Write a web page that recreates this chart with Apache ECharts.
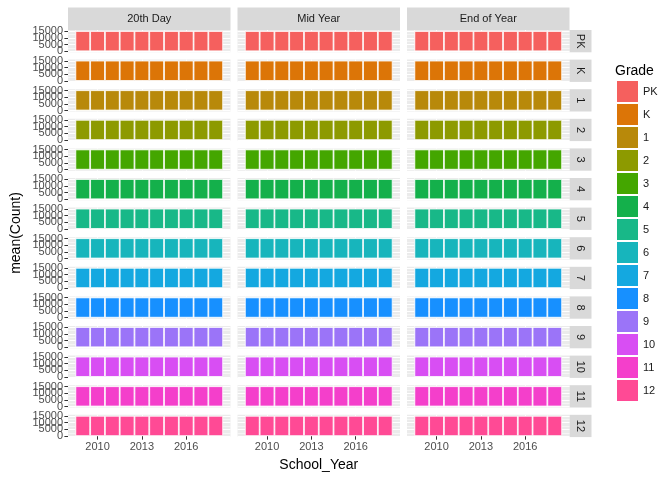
<!DOCTYPE html>
<html>
<head>
<meta charset="utf-8">
<script src="https://cdn.jsdelivr.net/npm/echarts@6/dist/echarts.min.js"></script>
<style>
  html, body { margin: 0; padding: 0; background: #fff; }
  #chart { width: 672px; height: 480px; }
</style>
</head>
<body>
<div id="chart"></div>
<script>
// facet data: one bar per school year, rows = grade, columns = period
const years = [2009, 2010, 2011, 2012, 2013, 2014, 2015, 2016, 2017, 2018]
const grades = ['PK', 'K', '1', '2', '3', '4', '5', '6', '7', '8', '9', '10', '11', '12']
const periods = ['20th Day', 'Mid Year', 'End of Year']
const gradeColors = ['#F5605E', '#DC7507', '#B8890A', '#8D9A00', '#44A600', '#14B04B', '#18B888',
  '#17B5BC', '#14A8E0', '#1790FF', '#9B74F8', '#D84EF3', '#F43FCB', '#FF4A95']
const count20thDay = [15200, 15200, 15200, 15200, 15200, 15200, 15200, 15200, 15200, 15200]
const countMidYear = [15200, 15200, 15200, 15200, 15200, 15200, 15200, 15200, 15200, 15200]
const countEndOfYear = [15200, 15200, 15200, 15200, 15200, 15200, 15200, 15200, 15200, 15200]
const yTicks = [0, 5000, 10000, 15000]
const yMinorTicks = [2500, 7500, 12500]
const xTicks = [2010, 2013, 2016]
const xMinorTicks = [2008.5, 2011.5, 2014.5, 2017.5]

const periodCounts = [count20thDay, countMidYear, countEndOfYear]

// layout (px)
const colLeft = [68, 237.5, 407]
const panelW = 162.5
const top0 = 30
const rowStep = 29.6
const panelH = 22.3
const stripW = 22
const font = 'Liberation Sans, Arial, sans-serif'
const yMin = -760
const yMax = 15960

const plain = v => String(v)

const grid = []
const xAxis = []
const yAxis = []
const series = []
const graphic = []

grades.forEach((grade, r) => {
  periods.forEach((period, c) => {
    const g = grid.length
    const isBottom = r === grades.length - 1
    const isLeft = c === 0
    grid.push({
      left: colLeft[c], top: top0 + r * rowStep, width: panelW, height: panelH,
      show: true, backgroundColor: '#EBEBEB', borderWidth: 0
    })
    const xIdx = xAxis.length
    // major x
    xAxis.push({
      type: 'value', gridIndex: g, min: 2008, max: 2019, position: 'bottom', offset: 0,
      axisLine: { show: false },
      axisTick: { show: isBottom, length: 3.6, customValues: xTicks, lineStyle: { color: '#333', width: 1 } },
      axisLabel: {
        show: isBottom, customValues: xTicks, formatter: plain, hideOverlap: false,
        margin: 4, fontSize: 11, color: '#4D4D4D', fontFamily: font
      },
      splitLine: { show: true, lineStyle: { color: '#fff', width: 1 } }
    })
    // minor x
    xAxis.push({
      type: 'value', gridIndex: g, min: 2008, max: 2019, position: 'bottom', offset: 0,
      axisLine: { show: false },
      axisTick: { show: false, customValues: xMinorTicks },
      axisLabel: { show: false },
      splitLine: { show: true, lineStyle: { color: '#fff', width: 0.5 } }
    })
    const yIdx = yAxis.length
    yAxis.push({
      type: 'value', gridIndex: g, min: yMin, max: yMax, position: 'left', offset: 0,
      axisLine: { show: false },
      axisTick: { show: isLeft, length: 3.6, customValues: yTicks, lineStyle: { color: '#333', width: 1 } },
      axisLabel: { show: false },
      splitLine: { show: true, lineStyle: { color: '#fff', width: 1 } }
    })
    yAxis.push({
      type: 'value', gridIndex: g, min: yMin, max: yMax, position: 'left', offset: 0,
      axisLine: { show: false },
      axisTick: { show: false, customValues: yMinorTicks },
      axisLabel: { show: false },
      splitLine: { show: true, lineStyle: { color: '#fff', width: 0.5 } }
    })
    // labels one per axis, so the overlapping ones all stay visible (as in ggplot)
    if (isLeft) {
      yTicks.forEach(v => {
        yAxis.push({
          type: 'value', gridIndex: g, min: yMin, max: yMax, position: 'left', offset: 0,
          axisLine: { show: false },
          axisTick: { show: false, length: 3.6, customValues: [v] },
          axisLabel: {
            show: true, customValues: [v], formatter: plain,
            margin: 5, fontSize: 11, color: '#4D4D4D', fontFamily: font
          },
          splitLine: { show: false }
        })
      })
    }
    series.push({
      type: 'bar',
      name: grade,
      xAxisIndex: xIdx,
      yAxisIndex: yIdx,
      barWidth: 14.77,
      silent: true,
      itemStyle: { color: gradeColors[r], borderColor: '#fff', borderWidth: 0.8 },
      data: years.map((y, i) => [y, periodCounts[c][i]])
    })
  })
  // right strip
  const y = top0 + r * rowStep
  graphic.push({
    type: 'rect', shape: { x: colLeft[2] + panelW, y: y, width: stripW, height: panelH },
    style: { fill: '#D9D9D9' }, silent: true
  })
  graphic.push({
    type: 'text', x: colLeft[2] + panelW + stripW / 2, y: y + panelH / 2, rotation: -Math.PI / 2,
    style: { text: grade, fontSize: 11, fill: '#1A1A1A', fontFamily: font, align: 'center', verticalAlign: 'middle' },
    silent: true
  })
})

// top strips
periods.forEach((period, c) => {
  graphic.push({
    type: 'rect', shape: { x: colLeft[c], y: 7.5, width: panelW, height: 22.5 },
    style: { fill: '#D9D9D9' }, silent: true
  })
  graphic.push({
    type: 'text', x: colLeft[c] + panelW / 2, y: 19,
    style: { text: period, fontSize: 11, fill: '#1A1A1A', fontFamily: font, align: 'center', verticalAlign: 'middle' },
    silent: true
  })
})

// axis titles + legend title
graphic.push({
  type: 'text', x: 16, y: 233, rotation: Math.PI / 2,
  style: { text: 'mean(Count)', fontSize: 14, fill: '#000', fontFamily: font, align: 'center', verticalAlign: 'middle' }
})
graphic.push({
  type: 'text', x: (colLeft[0] + colLeft[2] + panelW) / 2, y: 465,
  style: { text: 'School_Year', fontSize: 14, fill: '#000', fontFamily: font, align: 'center', verticalAlign: 'middle' }
})
graphic.push({
  type: 'text', x: 615, y: 71,
  style: { text: 'Grade', fontSize: 14, fill: '#000', fontFamily: font, align: 'left', verticalAlign: 'middle' }
})

const options = {
  animation: false,
  backgroundColor: '#fff',
  textStyle: { fontFamily: font },
  legend: {
    orient: 'vertical',
    left: 617,
    top: 81,
    padding: 0,
    icon: 'rect',
    itemWidth: 21,
    itemHeight: 21,
    itemGap: 2,
    selectedMode: false,
    textStyle: { fontSize: 11, color: '#1A1A1A', fontFamily: font },
    data: grades.map(name => ({ name: name, itemStyle: { borderWidth: 0 } }))
  },
  grid: grid,
  xAxis: xAxis,
  yAxis: yAxis,
  series: series,
  graphic: graphic
}

const chart = echarts.init(document.getElementById('chart'))
chart.setOption(options)
</script>
</body>
</html>
